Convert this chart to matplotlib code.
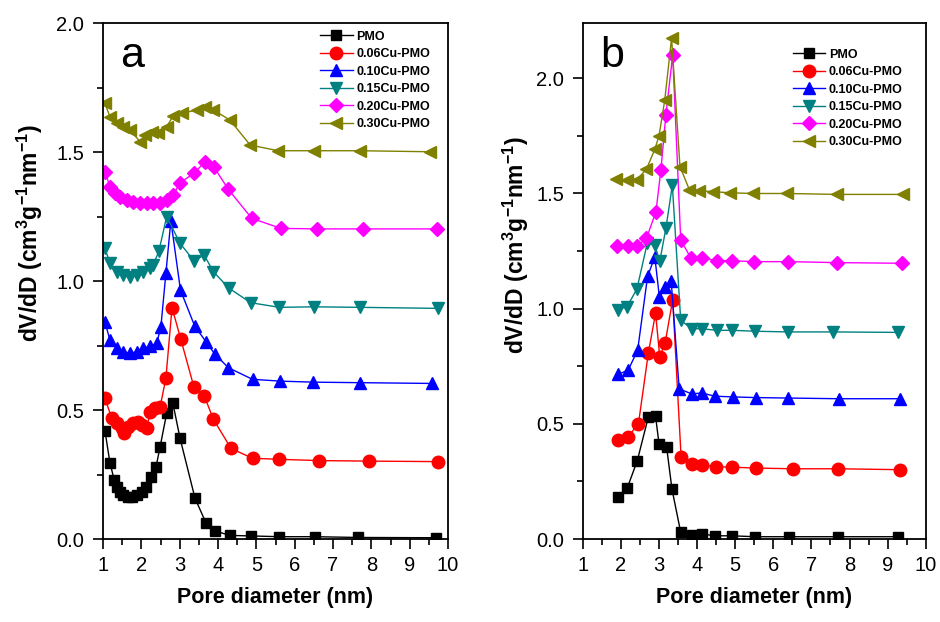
import matplotlib
matplotlib.use("Agg")
import matplotlib.pyplot as plt
from matplotlib.ticker import MultipleLocator, FormatStrFormatter

plt.rcParams['font.family'] = ['Liberation Sans', 'DejaVu Sans']
plt.rcParams['mathtext.fontset'] = 'custom'
plt.rcParams['mathtext.bf'] = 'Liberation Sans:bold'
plt.rcParams['mathtext.rm'] = 'Liberation Sans:bold'

labels = ['PMO', '0.06Cu-PMO', '0.10Cu-PMO', '0.15Cu-PMO', '0.20Cu-PMO', '0.30Cu-PMO']
colors = ['#000000', '#FF0000', '#0000FF', '#008080', '#FF00FF', '#808000']
markers = ['s', 'o', '^', 'v', 'D', '<']
msizes = [7, 9, 8.5, 8.5, 7, 8.5]

# ---- Panel a data ----
a_pmo_x = [1.05, 1.18, 1.29, 1.36, 1.44, 1.53, 1.66, 1.75, 1.88, 2.01, 2.12, 2.24, 2.38, 2.49, 2.66, 2.82,
           3.01, 3.40, 3.69, 3.92, 4.30, 4.85, 5.60, 6.53, 7.66, 9.69]
a_pmo_y = [0.42, 0.296, 0.23, 0.203, 0.183, 0.171, 0.162, 0.162, 0.171, 0.183, 0.203, 0.239, 0.278, 0.358,
           0.487, 0.528, 0.39, 0.158, 0.061, 0.032, 0.014, 0.012, 0.009, 0.009, 0.006, 0.005]

a_06_x = [1.05, 1.23, 1.36, 1.49, 1.55, 1.66, 1.79, 1.92, 2.01, 2.14, 2.23, 2.36, 2.49, 2.64, 2.80, 3.03,
          3.37, 3.64, 3.88, 4.34, 4.90, 5.59, 6.63, 7.93, 9.75]
a_06_y = [0.545, 0.468, 0.448, 0.429, 0.412, 0.435, 0.448, 0.455, 0.442, 0.429, 0.493, 0.507, 0.513, 0.623,
          0.897, 0.774, 0.59, 0.555, 0.464, 0.351, 0.313, 0.309, 0.304, 0.302, 0.30]

a_10_x = [1.05, 1.18, 1.36, 1.53, 1.70, 1.88, 2.05, 2.23, 2.40, 2.51, 2.64, 2.77, 3.02, 3.39, 3.69, 3.91,
          4.27, 4.90, 5.62, 6.49, 7.70, 9.58]
a_10_y = [0.842, 0.771, 0.739, 0.726, 0.72, 0.726, 0.739, 0.748, 0.758, 0.823, 1.03, 1.234, 0.965, 0.826,
          0.764, 0.718, 0.664, 0.619, 0.612, 0.608, 0.606, 0.603]

a_15_x = [1.05, 1.18, 1.36, 1.53, 1.70, 1.88, 2.05, 2.23, 2.31, 2.46, 2.66, 3.01, 3.37, 3.64, 3.88, 4.28,
          4.85, 5.60, 6.50, 7.70, 9.75]
a_15_y = [1.127, 1.069, 1.036, 1.023, 1.017, 1.023, 1.036, 1.049, 1.062, 1.117, 1.25, 1.146, 1.079, 1.10,
          1.036, 0.973, 0.916, 0.898, 0.90, 0.898, 0.894]

a_20_x = [1.05, 1.18, 1.31, 1.44, 1.62, 1.79, 1.97, 2.14, 2.31, 2.49, 2.66, 2.83, 3.01, 3.37, 3.66, 3.90,
          4.27, 4.88, 5.64, 6.59, 7.79, 9.71]
a_20_y = [1.424, 1.366, 1.34, 1.327, 1.314, 1.307, 1.303, 1.301, 1.301, 1.303, 1.314, 1.333, 1.381, 1.417,
          1.462, 1.44, 1.355, 1.243, 1.204, 1.202, 1.202, 1.202]

a_30_x = [1.05, 1.18, 1.36, 1.53, 1.70, 1.97, 2.10, 2.27, 2.44, 2.66, 2.83, 3.05, 3.44, 3.66, 3.88, 4.31,
          4.84, 5.57, 6.50, 7.70, 9.53]
a_30_y = [1.689, 1.637, 1.611, 1.598, 1.585, 1.54, 1.566, 1.579, 1.572, 1.598, 1.64, 1.65, 1.663, 1.676,
          1.663, 1.624, 1.527, 1.505, 1.505, 1.505, 1.501]

# ---- Panel b data ----
b_pmo_x = [1.93, 2.17, 2.43, 2.72, 2.91, 3.00, 3.20, 3.34, 3.57, 3.86, 4.12, 4.47, 4.91, 5.52, 6.42, 7.69, 9.26]
b_pmo_y = [0.184, 0.223, 0.34, 0.53, 0.533, 0.413, 0.399, 0.217, 0.029, 0.019, 0.022, 0.014, 0.014, 0.01,
           0.01, 0.01, 0.01]

b_06_x = [1.93, 2.19, 2.46, 2.72, 2.91, 3.02, 3.16, 3.36, 3.58, 3.86, 4.12, 4.49, 4.91, 5.54, 6.52, 7.71, 9.33]
b_06_y = [0.43, 0.445, 0.50, 0.807, 0.981, 0.79, 0.851, 1.039, 0.355, 0.326, 0.323, 0.314, 0.312, 0.308,
          0.305, 0.305, 0.301]

b_10_x = [1.93, 2.19, 2.44, 2.70, 2.89, 3.01, 3.16, 3.32, 3.53, 3.86, 4.12, 4.47, 4.93, 5.54, 6.39, 7.73, 9.33]
b_10_y = [0.715, 0.733, 0.82, 1.14, 1.225, 1.051, 1.092, 1.12, 0.652, 0.63, 0.634, 0.62, 0.617, 0.614,
          0.612, 0.609, 0.609]

b_15_x = [1.93, 2.16, 2.42, 2.69, 2.89, 3.02, 3.18, 3.35, 3.57, 3.86, 4.12, 4.51, 4.92, 5.52, 6.39, 7.56, 9.26]
b_15_y = [0.996, 1.009, 1.085, 1.283, 1.276, 1.206, 1.348, 1.536, 0.949, 0.913, 0.913, 0.906, 0.906, 0.902,
          0.899, 0.899, 0.897]

b_20_x = [1.90, 2.19, 2.43, 2.67, 2.92, 3.05, 3.18, 3.36, 3.57, 3.83, 4.12, 4.51, 4.91, 5.50, 6.39, 7.66, 9.37]
b_20_y = [1.272, 1.272, 1.272, 1.305, 1.421, 1.602, 1.841, 2.102, 1.298, 1.222, 1.222, 1.208, 1.208, 1.204,
          1.204, 1.20, 1.197]

b_30_x = [1.88, 2.17, 2.41, 2.67, 2.89, 3.00, 3.15, 3.33, 3.55, 3.80, 4.06, 4.41, 4.86, 5.46, 6.35, 7.66, 9.41]
b_30_y = [1.561, 1.559, 1.559, 1.605, 1.692, 1.75, 1.904, 2.175, 1.617, 1.515, 1.512, 1.508, 1.503, 1.50,
          1.50, 1.496, 1.496]

panel_a = [(a_pmo_x, a_pmo_y), (a_06_x, a_06_y), (a_10_x, a_10_y),
           (a_15_x, a_15_y), (a_20_x, a_20_y), (a_30_x, a_30_y)]
panel_b = [(b_pmo_x, b_pmo_y), (b_06_x, b_06_y), (b_10_x, b_10_y),
           (b_15_x, b_15_y), (b_20_x, b_20_y), (b_30_x, b_30_y)]

fig = plt.figure(figsize=(9.4, 6.22), dpi=100)
ax_a = fig.add_axes([0.1096, 0.1334, 0.367, 0.8296])
ax_b = fig.add_axes([0.6200, 0.1334, 0.3648, 0.8296])


def style(ax, ymax, letter, leg_anchor, ylab_xy):
    ax.set_xlim(1, 10)
    ax.set_ylim(0, ymax)
    ax.xaxis.set_major_locator(MultipleLocator(1))
    ax.xaxis.set_minor_locator(MultipleLocator(0.5))
    ax.yaxis.set_major_locator(MultipleLocator(0.5))
    ax.yaxis.set_minor_locator(MultipleLocator(0.25))
    ax.tick_params(which='both', direction='out', top=False, right=False, width=1.2)
    ax.tick_params(which='major', length=7, labelsize=14.5)
    ax.tick_params(which='minor', length=4)
    ax.tick_params(axis='x', which='major', pad=5)
    ax.tick_params(axis='y', which='major', pad=6.5)
    ax.yaxis.set_major_formatter(FormatStrFormatter('%.1f'))
    for s in ax.spines.values():
        s.set_linewidth(1.3)
    ax.set_xlabel('Pore diameter (nm)', fontsize=15.5, fontweight='bold')
    ax.xaxis.set_label_coords(0.5, -0.093)
    ax.xaxis.label.set_va('top')
    ax.set_ylabel(r'dV/dD (cm$^{\mathbf{3}}$g$^{\mathbf{-1}}$nm$^{\mathbf{-1}}$)',
                  fontsize=16.5, fontweight='bold')
    ax.yaxis.set_label_coords(*ylab_xy)
    ax.text(0.05, 0.975, letter, transform=ax.transAxes, fontsize=31, va='top', ha='left')
    ax.legend(loc='upper right', bbox_to_anchor=leg_anchor, frameon=False,
              prop={'weight': 'bold', 'size': 9}, handlelength=2.6,
              labelspacing=0.44, handletextpad=0.3, borderaxespad=0.2)


for ax, data in ((ax_a, panel_a), (ax_b, panel_b)):
    for (xs, ys), lab, c, m, ms in zip(data, labels, colors, markers, msizes):
        ax.plot(xs, ys, color=c, marker=m, markersize=ms, linewidth=1.0,
                markeredgecolor=c, markerfacecolor=c, label=lab)

style(ax_a, 2.0, 'a', (0.97, 1.0), (-0.168, 0.593))
style(ax_b, 2.24, 'b', (0.955, 0.965), (-0.15, 0.57))

fig.savefig('out.png', dpi=100)
